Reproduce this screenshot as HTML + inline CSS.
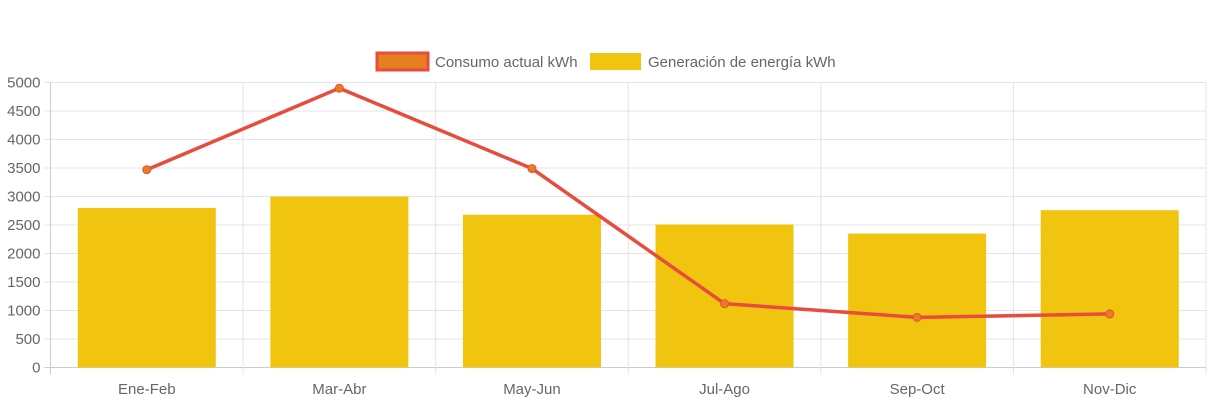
<!DOCTYPE html>
<html><head><meta charset="utf-8"><style>
body{margin:0;background:#fff;font-family:"Liberation Sans",Arial,sans-serif}
svg text{font-family:"Liberation Sans",Arial,sans-serif;fill:#666;font-size:15px}
</style></head><body>
<svg id="chart" width="1213" height="403" xmlns="http://www.w3.org/2000/svg">
<g id="legend">
 <g>
  <rect x="377" y="53" width="51" height="17" fill="#e67e22" stroke="#e74c3c" stroke-width="3"/>
  <text x="435" y="67">Consumo actual kWh</text>
 </g>
 <g>
  <rect x="590" y="53" width="51" height="17" fill="#f1c40f"/>
  <text x="648" y="67">Generación de energía kWh</text>
 </g>
</g>
<g id="grid"></g><g id="bars"></g><g id="line"></g><g id="axes"></g>
</svg>
<script>
const categories=["Ene-Feb","Mar-Abr","May-Jun","Jul-Ago","Sep-Oct","Nov-Dic"];
const generacion=[2800,3000,2680,2510,2350,2760];
const consumo=[3470,4900,3490,1120,880,940];
const yTicks=[0,500,1000,1500,2000,2500,3000,3500,4000,4500,5000];
const NS="http://www.w3.org/2000/svg";
const L=50.5,R=1206,T=82.5,B=367.5,yMax=5000;
const bw=(R-L)/categories.length;
const y=v=>B-(v/yMax)*(B-T);
const xc=i=>L+bw*(i+0.5);
function mk(tag,attrs,parent){const e=document.createElementNS(NS,tag);for(const k in attrs)e.setAttribute(k,attrs[k]);document.getElementById(parent).appendChild(e);return e;}
yTicks.forEach(t=>{
 const g=mk('line',{x1:L-6,x2:R,y1:y(t),y2:y(t),stroke:t===0?'#ccc':'#e4e4e4','stroke-width':1},'grid');
 
 
 const tx=mk('text',{x:L-10,y:y(t)+5,'text-anchor':'end'},'axes');tx.textContent=t;
 
 
});
for(let i=0;i<=categories.length;i++){
 const g=mk('line',{x1:L+bw*i,x2:L+bw*i,y1:T,y2:B+7,stroke:i===0?'#ccc':'#e4e4e4','stroke-width':1},'grid');
 
 
}
categories.forEach((c,i)=>{
 const b=mk('rect',{x:xc(i)-69,y:y(generacion[i]),width:138,height:B-y(generacion[i]),fill:'#f1c40f'},'bars');
 
 
 const tx=mk('text',{x:xc(i),y:394,'text-anchor':'middle'},'axes');tx.textContent=c;
 
 
});
const pl=mk('polyline',{points:consumo.map((v,i)=>xc(i)+','+y(v)).join(' '),fill:'none',stroke:'#e74c3c','stroke-width':3.5},'line');


consumo.forEach((v,i)=>{
 const p=mk('circle',{cx:xc(i),cy:y(v),r:4,fill:'#e67e22',stroke:'#e74c3c','stroke-width':1},'line');
 
 
});
</script>
</body></html>
